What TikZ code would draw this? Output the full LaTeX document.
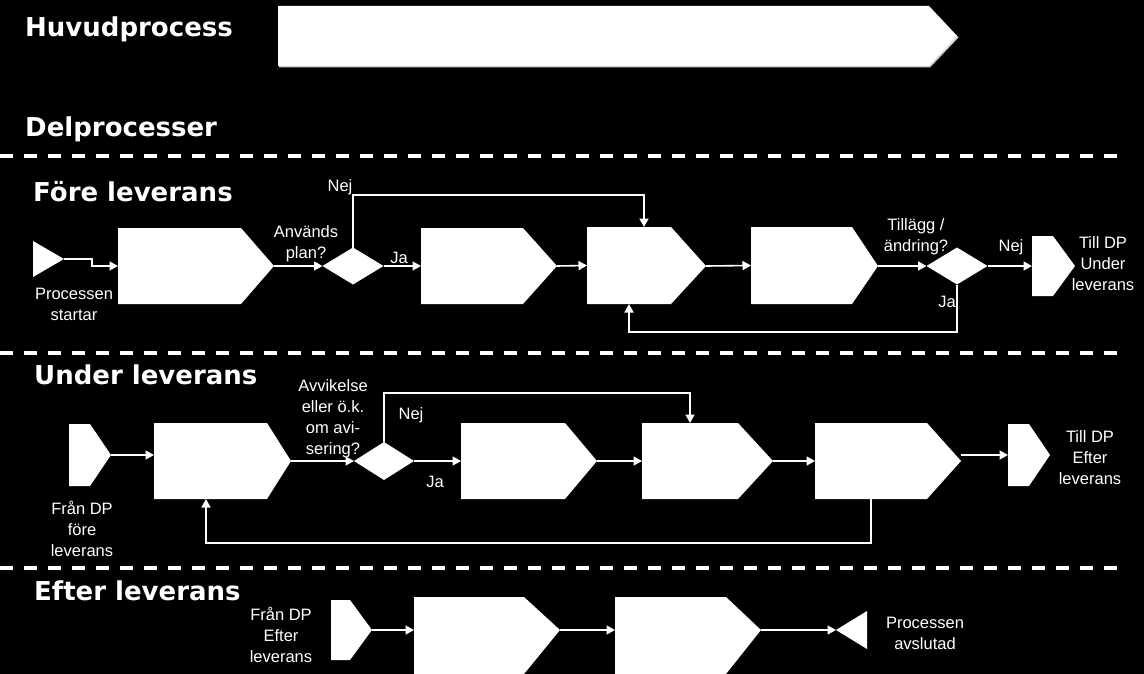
\documentclass[tikz,border=0pt]{standalone}
\usepackage{fontspec}
\setmainfont{Liberation Sans}
\newfontfamily\hdrfont{DejaVu Sans}
\usetikzlibrary{shapes.geometric,arrows.meta}
\tikzset{
  boxarea/.style={inner sep=0pt, outer sep=0pt, draw=none},
  shapefill/.style={fill=white},
  conn/.style={draw=white, line width=1.6pt, -{Triangle[length=8.5pt,width=9pt]}},
  lbl/.style={text=white, align=center, inner sep=0pt, font=\fontsize{16.5}{21}\selectfont},
  hdr/.style={text=white, inner sep=0pt, anchor=base west, font=\hdrfont\bfseries\fontsize{26}{30}\selectfont},
  sep/.style={draw=white, line width=4pt, dash pattern=on 13pt off 11pt},
  dec/.style={diamond, fill=white, inner sep=0pt, outer sep=0pt, minimum width=61pt, minimum height=37pt}
}
% name, x1, y1, x2 (top right), y2, tip x, tip y
\newcommand\pbox[7]{%
  \node[boxarea, minimum width={#6-#2}, minimum height={#5-#3}] (#1) at ({(#2+#6)/2},{(#3+#5)/2}) {};
  \coordinate (#1t) at (#6,#7);
  \fill[shapefill] (#2,#3) -- (#4,#3) -- (#6,#7) -- (#4,#5) -- (#2,#5) -- cycle;
}
% right-pointing triangle: name, x1, y1, y2, tip x
\newcommand\rtri[5]{%
  \node[boxarea, minimum width={#5-#2}, minimum height={#4-#3}] (#1) at ({(#2+#5)/2},{(#3+#4)/2}) {};
  \coordinate (#1t) at (#5,{(#3+#4)/2});
  \fill[white] (#2,#3) -- (#1t) -- (#2,#4) -- cycle;
}
% left-pointing triangle: name, tip x, y1, y2, right x
\newcommand\ltri[5]{%
  \node[boxarea, minimum width={#5-#2}, minimum height={#4-#3}] (#1) at ({(#2+#5)/2},{(#3+#4)/2}) {};
  \fill[white] (#1.west) -- (#5,#3) -- (#5,#4) -- cycle;
}
\begin{document}
\begin{tikzpicture}[x=1pt,y=-1pt]
\useasboundingbox (0,0) rectangle (1144,674);
\fill[black] (0,0) rectangle (1144,674);

% headers
\node[hdr] (hHuvud) at (25,37) {Huvudprocess};
\node[hdr] (hDel) at (25,137) {Delprocesser};
\node[hdr] (hFore) at (33,201) {Före leverans};
\node[hdr] (hUnder) at (34,384) {Under leverans};
\node[hdr] (hEfter) at (34,600) {Efter leverans};

% main process arrow
\fill[gray!35] (279,7.5) -- (930,7.5) -- (958.5,37.5) -- (930,67.5) -- (279,67.5) -- cycle;
\fill[white] (278,6) -- (929,6) -- (957,36) -- (929,66) -- (278,66) -- cycle;
\node[boxarea, minimum width=679pt, minimum height=60pt] (huvud) at (617.5,36) {};

% separators
\coordinate (sA1) at (0,156); \coordinate (sA2) at (1125,156);
\coordinate (sB1) at (0,353); \coordinate (sB2) at (1125,353);
\coordinate (sC1) at (0,568); \coordinate (sC2) at (1125,568);
\draw[sep] (sA1) -- (sA2);
\draw[sep] (sB1) -- (sB2);
\draw[sep] (sC1) -- (sC2);

% ---------- Före leverans ----------
\rtri{s1}{33}{241}{277}{64}
\pbox{b1}{118}{228}{241}{304}{274}{266}
\node[dec] (d1) at (353,266) {};
\pbox{b2}{421}{228}{523}{304}{557}{266}
\pbox{b3}{587}{227}{671}{304}{706}{266}
\pbox{b4}{751}{227}{852}{304}{878}{266}
\node[dec] (d2) at (957,266) {};
\pbox{e1}{1032}{236}{1053}{296}{1075}{266}

\coordinate (k1) at (92,259);
\coordinate (n1) at (644,195);
\coordinate (j1) at (629,332);
\draw[conn] (s1t) -- (k1) |- (b1.west);
\draw[conn] (b1t) -- (d1.west);
\draw[conn] (d1.east) -- (b2.west);
\draw[conn] (b2t) -- (b3.west);
\draw[conn] (b3t) -- (b4.west);
\draw[conn] (b4t) -- (d2.west);
\draw[conn] (d2.east) -- (e1.west);
\draw[conn] (d1.north) |- (n1) -- (b3.north -| n1);
\draw[conn] (d2.south) |- (j1) -- (b3.south -| j1);

\node[lbl] (t1) at (74,304) {Processen\\startar};
\node[lbl] (t2) at (306,244) {Används\\plan?};
\node[lbl] (t3) at (340,187) {Nej};
\node[lbl] (t4) at (399,258) {Ja};
\node[lbl] (t5) at (916,237) {Tillägg /\\ändring?};
\node[lbl] (t6) at (1011,247) {Nej};
\node[lbl] (t7) at (947,302) {Ja};
\node[lbl] (t8) at (1103,264) {Till DP\\Under\\leverans};

% ---------- Under leverans ----------
\pbox{s2}{69}{424}{90}{486}{111}{455}
\pbox{b5}{154}{423}{267}{499}{291}{461}
\node[dec, minimum width=60pt, minimum height=38pt] (d3) at (384,461) {};
\pbox{b6}{461}{423}{565}{499}{597}{461}
\pbox{b7}{642}{423}{738}{499}{773}{461}
\pbox{b8}{815}{423}{927}{499}{961}{461}
\pbox{e2}{1008}{424}{1029}{486}{1050}{455}

\coordinate (n2) at (690,393);
\coordinate (l2a) at (871,543);
\coordinate (l2b) at (206,543);
\draw[conn] (s2t) -- (s2t -| b5.west);
\draw[conn] (b5t) -- (d3.west);
\draw[conn] (d3.east) -- (b6.west);
\draw[conn] (b6t) -- (b7.west);
\draw[conn] (b7t) -- (b8.west);
\draw[conn] (b8t |- e2.west) -- (e2.west);
\draw[conn] (d3.north) |- (n2) -- (b7.north -| n2);
\draw[conn] (b8.south -| l2a) -- (l2a) -- (l2b) -- (b5.south -| l2b);

\node[lbl] (u1) at (333,419) {Avvikelse\\eller ö.k.\\om avi-\\sering?};
\node[lbl] (u2) at (411,415) {Nej};
\node[lbl] (u3) at (435,482) {Ja};
\node[lbl] (u4) at (82,529) {Från DP\\före\\leverans};
\node[lbl] (u5) at (1090,458) {Till DP\\Efter\\leverans};

% ---------- Efter leverans ----------
\pbox{s3}{331}{600}{350}{660}{372}{630}
\pbox{b9}{414}{597}{524}{674}{560}{630}
\pbox{b10}{615}{597}{726}{674}{761}{630}
\ltri{e3}{836}{611}{649}{867}

\draw[conn] (s3t) -- (s3t -| b9.west);
\draw[conn] (b9t) -- (b9t -| b10.west);
\draw[conn] (b10t) -- (e3.west);

\node[lbl] (v1) at (281,635) {Från DP\\Efter\\leverans};
\node[lbl] (v2) at (925,633) {Processen\\avslutad};
\end{tikzpicture}
\end{document}
